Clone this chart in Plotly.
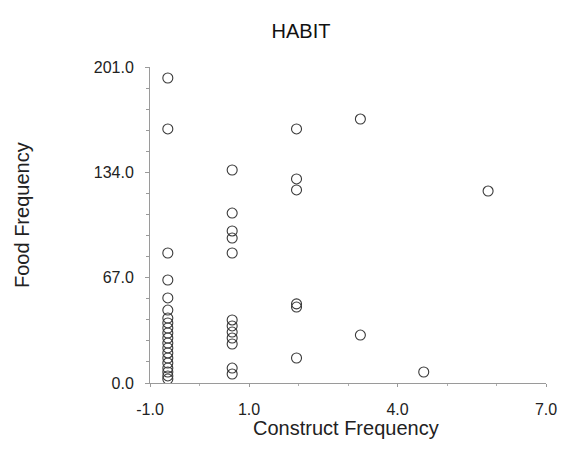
import plotly.graph_objects as go

# Data (axis units)
col_x = [-0.64, 0.66, 1.96, 3.25, 4.53, 5.83]
col_a_y = [194.0, 161.6, 82.7, 65.5, 54.1, 46.4, 41.3, 38.2, 35.0, 31.8, 28.6,
           25.4, 22.3, 19.1, 15.9, 12.7, 9.5, 7.0, 4.5, 2.5]
col_b_y = [135.5, 108.1, 96.7, 92.2, 82.7, 40.1, 36.3, 32.4, 28.6, 24.8, 9.5, 5.7]
col_c_y = [161.6, 129.8, 122.8, 50.3, 48.3, 15.9]
col_d_y = [167.9, 30.5]
col_e_y = [7.0]
col_f_y = [122.1]

x_tickvals = [-1.0, 1.0, 4.0, 7.0]
x_ticktext = ["-1.0", "1.0", "4.0", "7.0"]
y_tickvals = [0.0, 67.0, 134.0, 201.0]
y_ticktext = ["0.0", "67.0", "134.0", "201.0"]

cols = [col_a_y, col_b_y, col_c_y, col_d_y, col_e_y, col_f_y]
xs, ys = [], []
for cx, cy in zip(col_x, cols):
    xs += [cx] * len(cy)
    ys += cy

FONT = "Liberation Sans, Arial, sans-serif"
W, H = 573, 455
L, R, T, B = 150, 27, 67, 72
PW, PH = W - L - R, H - T - B

fig = go.Figure()
fig.add_trace(go.Scatter(
    x=xs, y=ys, mode="markers",
    marker=dict(symbol="circle-open", size=10, color="#3a3a3a", line=dict(width=1.1)),
    showlegend=False, hoverinfo="skip",
))

fig.update_layout(
    width=W, height=H,
    margin=dict(l=L, r=R, t=T, b=B),
    paper_bgcolor="white", plot_bgcolor="white",
    font=dict(family=FONT, color="#222222"),
    title=dict(text="HABIT", x=301 / W, xref="container", xanchor="center",
               y=1 - 31 / H, yref="container", yanchor="middle",
               font=dict(size=20, family=FONT, color="#111111")),
    annotations=[
        dict(text="Construct Frequency", xref="paper", yref="paper",
             x=(346 - L) / PW, y=-(428 - (H - B)) / PH,
             xanchor="center", yanchor="middle", showarrow=False,
             font=dict(size=20, family=FONT, color="#222222")),
        dict(text="Food Frequency", xref="paper", yref="paper",
             x=-(L - 22) / PW, y=((H - B) - 215) / PH,
             xanchor="center", yanchor="middle", showarrow=False, textangle=-90,
             font=dict(size=20, family=FONT, color="#222222")),
    ],
)

fig.update_xaxes(
    range=[-1, 7], tickvals=x_tickvals, ticktext=x_ticktext,
    showgrid=False, zeroline=False, showline=True, linecolor="#9a9a9a", linewidth=1,
    ticks="outside", ticklen=3, tickcolor="#9a9a9a",
    ticklabelstandoff=9,
    tickfont=dict(size=16, family=FONT, color="#222222"),
    minor=dict(tick0=-1, dtick=1, ticks="outside", ticklen=2, tickcolor="#b0b0b0"),
)
fig.update_yaxes(
    range=[0, 201], tickvals=y_tickvals, ticktext=y_ticktext,
    showgrid=False, zeroline=False, showline=True, linecolor="#9a9a9a", linewidth=1,
    ticks="outside", ticklen=4, tickcolor="#9a9a9a",
    ticklabelstandoff=8,
    tickfont=dict(size=16, family=FONT, color="#222222"),
    minor=dict(tick0=0, dtick=13.4, ticks="outside", ticklen=3, tickcolor="#9a9a9a"),
)

fig.write_html("out.html")
